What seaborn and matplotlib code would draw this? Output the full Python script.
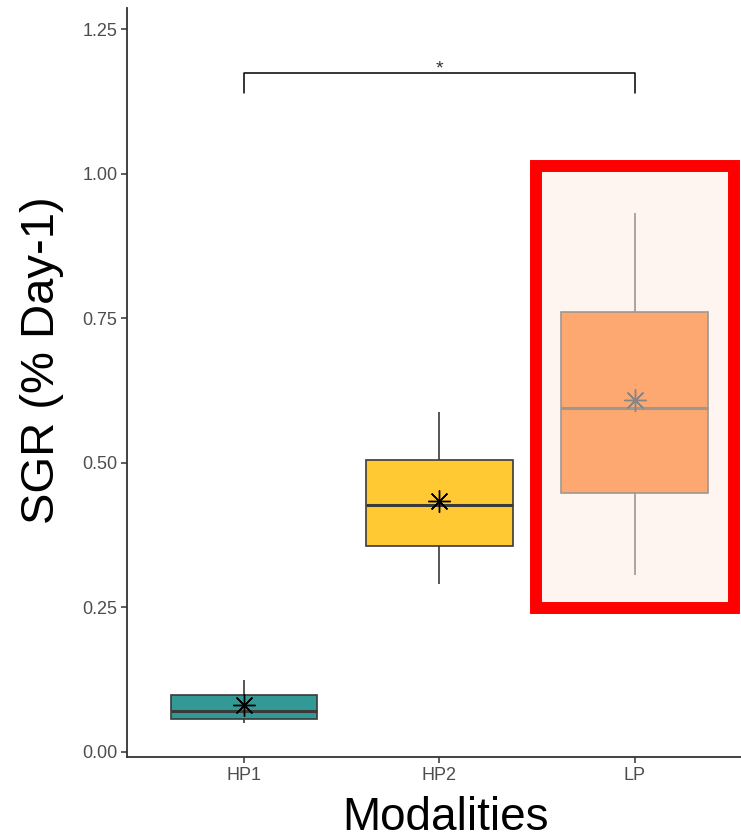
import pandas as pd
import matplotlib
matplotlib.use("Agg")
import matplotlib.pyplot as plt
import seaborn as sns
from matplotlib.patches import Rectangle

modalites = ["HP1", "HP2", "LP"]
sgr_hp1 = [0.050, 0.057, 0.071, 0.099, 0.125]
sgr_hp2 = [0.290, 0.356, 0.427, 0.505, 0.588]
sgr_lp = [0.306, 0.448, 0.595, 0.761, 0.933]
couleurs = {"HP1": "#339994", "HP2": "#FFC933", "LP": "#FDA771"}

df = pd.DataFrame({
    "Modalities": ["HP1"] * len(sgr_hp1) + ["HP2"] * len(sgr_hp2) + ["LP"] * len(sgr_lp),
    "SGR": sgr_hp1 + sgr_hp2 + sgr_lp,
})

sns.set_theme(style="white")
plt.rcParams["font.family"] = ["Liberation Sans", "DejaVu Sans"]

fig = plt.figure(figsize=(7.41, 8.40), dpi=100)
ax = fig.add_axes([0.1714, 0.0988, 0.8286, 0.8917])

# zone mise en évidence autour de LP
ax.add_patch(Rectangle((1.497, 0.249), 1.013, 0.765, facecolor="#FEF5F0",
                       edgecolor="#FF0000", linewidth=8.6, zorder=0.5, clip_on=False))

def trace(sous, ligne, moyenne):
    sns.boxplot(data=sous, x="Modalities", y="SGR", hue="Modalities", order=modalites,
                palette=couleurs, saturation=1, width=0.75, linecolor=ligne, linewidth=1.2,
                showcaps=False, legend=False, ax=ax,
                medianprops={"linewidth": 2.2, "color": ligne},
                showmeans=True,
                meanprops={"marker": (8, 2, 0), "markersize": 16, "markeredgecolor": moyenne,
                           "markerfacecolor": moyenne, "markeredgewidth": 1.0})

trace(df[df["Modalities"] != "LP"], "#3A3A3A", "black")
trace(df[df["Modalities"] == "LP"], "#9E9892", "#8A8580")

# crochet de significativité
ax.plot([0, 0, 2, 2], [1.14, 1.175, 1.175, 1.14], color="black", linewidth=1.1, clip_on=False)
ax.text(1, 1.167, "*", ha="center", va="bottom", fontsize=14, color="#333333")

ax.set_xlim(-0.6, 2.545)
ax.set_ylim(-0.009, 1.287)
ax.set_yticks([0.0, 0.25, 0.5, 0.75, 1.0, 1.25])
ax.set_yticklabels(["0.00", "0.25", "0.50", "0.75", "1.00", "1.25"])
ax.set_xlabel("Modalities", fontsize=33, color="black")
ax.xaxis.set_label_coords(0.518, -0.052)
ax.set_ylabel("SGR (% Day-1)", fontsize=34, color="black")
ax.yaxis.set_label_coords(-0.102, 0.530)

for axis in ["top", "right"]:
    ax.spines[axis].set_visible(False)
for axis in ["left", "bottom"]:
    ax.spines[axis].set_color("#333333")
    ax.spines[axis].set_linewidth(1.3)
ax.tick_params(axis="both", which="both", length=4, width=1.1, color="#333333",
               labelsize=13, labelcolor="#4D4D4D", bottom=True, left=True, pad=3)

fig.savefig("out.png", dpi=100)
